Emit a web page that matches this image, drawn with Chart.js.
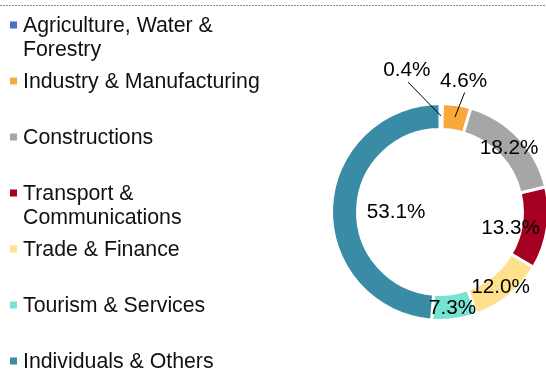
<!DOCTYPE html>
<html>
<head>
<meta charset="utf-8">
<style>
  html, body { margin: 0; padding: 0; background: #ffffff; }
  #wrap { width: 546px; height: 371px; position: relative; overflow: hidden; }
</style>
<script src="https://cdn.jsdelivr.net/npm/chart.js@4.4.1/dist/chart.umd.min.js"></script>
</head>
<body>
<div id="wrap"><canvas id="chart" width="546" height="371"></canvas></div>
<script>
// Loan portfolio by economic sector (shares in %)
const sectors = [
  ['Agriculture, Water &', 'Forestry'],
  ['Industry & Manufacturing'],
  ['Constructions'],
  ['Transport &', 'Communications'],
  ['Trade & Finance'],
  ['Tourism & Services'],
  ['Individuals & Others']
];
const shares = [0.4, 4.6, 18.2, 13.3, 12.0, 7.3, 53.1];
const sectorColors = ['#4472C4', '#F9A93C', '#A6A6A6', '#A50021', '#FFE08C', '#77E3D2', '#3A8CA6'];

const FONT = '"Liberation Sans", Arial, sans-serif';

// Legend column on the left, one entry per sector
const sideLegend = {
  id: 'sideLegend',
  afterDraw(chart) {
    const ctx = chart.ctx;
    ctx.save();
    ctx.font = '21.3px ' + FONT;
    ctx.textBaseline = 'alphabetic';
    ctx.textAlign = 'left';
    sectors.forEach((lines, i) => {
      const base = 32 + 56 * i;
      ctx.fillStyle = sectorColors[i];
      ctx.fillRect(10, base - 10.5, 7, 7);
      ctx.fillStyle = '#111111';
      lines.forEach((t, k) => ctx.fillText(t, 23, base + 24 * k));
    });
    ctx.restore();
  }
};

// Dotted rule along the top edge
const topRule = {
  id: 'topRule',
  beforeDraw(chart) {
    const ctx = chart.ctx;
    ctx.save();
    ctx.strokeStyle = '#8a8a8a';
    ctx.lineWidth = 1;
    ctx.setLineDash([2, 1]);
    ctx.beginPath();
    ctx.moveTo(0, 5.5);
    ctx.lineTo(chart.width, 5.5);
    ctx.stroke();
    ctx.restore();
  }
};

// Percentage labels; small slices get an outside label with a leader line
const placement = [
  { r: 1.353, dAngle: -13.7, leader: true },
  { r: 1.241, dAngle: 1.2, leader: true },
  { r: 0.876 },
  { r: 0.876 },
  { r: 0.876 },
  { r: 0.876 },
  { r: 0.406 }
];
const sliceLabels = {
  id: 'sliceLabels',
  afterDatasetsDraw(chart) {
    const ctx = chart.ctx;
    const meta = chart.getDatasetMeta(0);
    ctx.save();
    ctx.font = '20.7px ' + FONT;
    ctx.fillStyle = '#000000';
    ctx.textAlign = 'center';
    ctx.textBaseline = 'alphabetic';
    meta.data.forEach((arc, i) => {
      const p = arc.getProps(['x', 'y', 'startAngle', 'endAngle', 'outerRadius'], true);
      const cfg = placement[i];
      const mid = (p.startAngle + p.endAngle) / 2;
      const a = mid + (cfg.dAngle || 0) * Math.PI / 180;
      const text = shares[i].toFixed(1) + '%';
      const w = ctx.measureText(text).width;
      let cx = p.x + Math.cos(a) * p.outerRadius * cfg.r;
      const cy = p.y + Math.sin(a) * p.outerRadius * cfg.r;
      cx = Math.min(cx, chart.width - 6 - w / 2);
      if (cfg.leader) {
        ctx.strokeStyle = '#000000';
        ctx.lineWidth = 1;
        ctx.beginPath();
        ctx.moveTo(p.x + Math.cos(mid) * p.outerRadius * 0.885, p.y + Math.sin(mid) * p.outerRadius * 0.885);
        ctx.lineTo(cx + 1, cy + 13);
        ctx.stroke();
      }
      ctx.fillText(text, cx, cy + 20.7 * 0.358);
    });
    ctx.restore();
  }
};

new Chart(document.getElementById('chart'), {
  type: 'doughnut',
  data: {
    labels: sectors,
    datasets: [{
      data: shares,
      backgroundColor: sectorColors,
      borderColor: '#ffffff',
      borderWidth: 3,
      clip: false
    }]
  },
  options: {
    responsive: false,
    animation: false,
    devicePixelRatio: 1,
    radius: 108.5,
    cutout: '76%',
    layout: { padding: { left: 334, right: 0, top: 104, bottom: 51 } },
    plugins: {
      legend: { display: false },
      tooltip: { enabled: false },
      title: { display: false }
    }
  },
  plugins: [topRule, sideLegend, sliceLabels]
});
</script>
</body>
</html>
